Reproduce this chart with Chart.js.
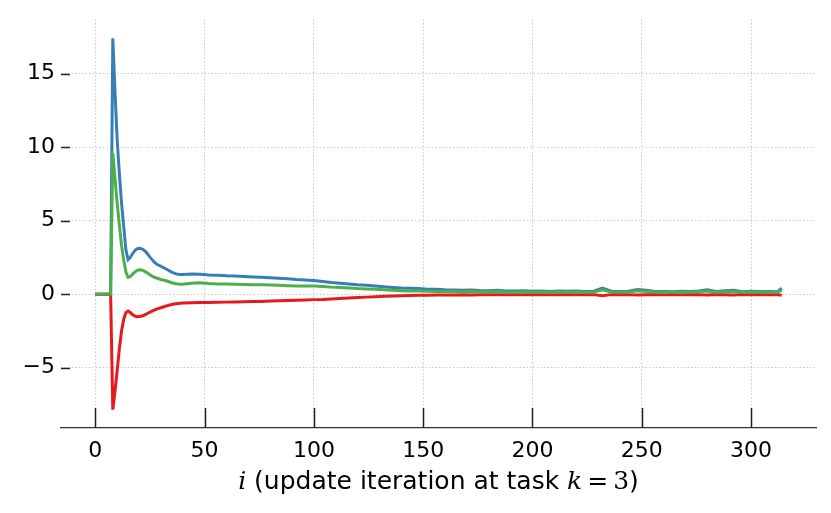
<!DOCTYPE html>
<html>
<head>
<meta charset="utf-8">
<script src="https://cdn.jsdelivr.net/npm/chart.js@4/dist/chart.umd.min.js"></script>
<style>
body{margin:0;background:#fff;}
canvas{display:block;}
</style>
</head>
<body>
<canvas id="chart" width="831" height="513"></canvas>
<script>
// DATA

const iters = [0,1,2,3,4,5,6,7,8,9,10,11,12,13,14,15,16,17,18,19,20,21,22,23,24,25,26,27,28,29,30,31,32,33,34,35,36,37,38,39,40,
44,48,52,56,60,64,68,72,76,80,84,88,92,96,100,104,108,112,116,120,124,128,132,136,140,144,148,152,156,160,
164,168,172,176,180,184,188,192,196,200,204,208,212,216,220,224,228,232,236,240,244,248,252,256,260,264,268,272,276,280,284,288,292,296,300,304,308,312,314];

const blueVals = [0,0,0,0,0,0,0,0,17.4,13.8,10.5,8.2,6.2,4.6,3.0,2.35,2.5,2.75,2.95,3.08,3.12,3.1,3.02,2.9,2.72,2.52,2.35,2.18,2.05,1.97,1.9,1.82,1.75,1.66,1.58,1.5,1.43,1.38,1.35,1.34,1.34,
1.37,1.35,1.3,1.28,1.25,1.24,1.2,1.17,1.15,1.12,1.08,1.05,1.0,0.97,0.93,0.87,0.8,0.75,0.7,0.64,0.6,0.55,0.5,0.46,0.42,0.4,0.38,0.34,0.33,0.3,
0.29,0.27,0.28,0.25,0.24,0.26,0.22,0.21,0.23,0.2,0.22,0.19,0.21,0.2,0.22,0.19,0.2,0.42,0.2,0.18,0.2,0.32,0.26,0.18,0.19,0.17,0.2,0.18,0.22,0.3,0.19,0.24,0.27,0.17,0.2,0.18,0.19,0.16,0.42];

const greenVals = [0,0,0,0,0,0,0,0,9.6,7.9,6.2,4.7,3.3,2.3,1.5,1.15,1.2,1.35,1.5,1.6,1.66,1.65,1.6,1.52,1.42,1.32,1.23,1.15,1.1,1.05,1.0,0.96,0.93,0.88,0.83,0.78,0.74,0.71,0.69,0.68,0.68,
0.75,0.77,0.72,0.7,0.7,0.68,0.66,0.65,0.65,0.62,0.6,0.58,0.56,0.55,0.55,0.53,0.48,0.45,0.42,0.38,0.36,0.33,0.3,0.27,0.24,0.22,0.21,0.2,0.19,0.18,
0.18,0.17,0.18,0.16,0.15,0.17,0.14,0.14,0.15,0.13,0.15,0.13,0.14,0.13,0.15,0.13,0.14,0.3,0.14,0.13,0.14,0.24,0.19,0.13,0.14,0.13,0.14,0.13,0.16,0.22,0.14,0.17,0.19,0.13,0.15,0.14,0.14,0.12,0.28];

const redVals = [0,0,0,0,0,0,0,0,-7.85,-6.6,-5.2,-3.7,-2.5,-1.7,-1.25,-1.15,-1.25,-1.38,-1.48,-1.53,-1.52,-1.5,-1.45,-1.38,-1.3,-1.22,-1.15,-1.08,-1.02,-0.97,-0.92,-0.87,-0.82,-0.78,-0.74,-0.7,-0.67,-0.65,-0.63,-0.61,-0.6,
-0.58,-0.57,-0.56,-0.55,-0.54,-0.53,-0.52,-0.5,-0.49,-0.47,-0.45,-0.43,-0.41,-0.39,-0.37,-0.36,-0.32,-0.29,-0.26,-0.22,-0.2,-0.17,-0.14,-0.12,-0.1,-0.09,-0.08,-0.07,-0.06,-0.05,
-0.05,-0.04,-0.05,-0.04,-0.03,-0.04,-0.03,-0.03,-0.04,-0.02,-0.03,-0.02,-0.03,-0.02,-0.03,-0.02,-0.03,-0.1,-0.03,-0.02,-0.03,-0.06,-0.04,-0.02,-0.03,-0.02,-0.03,-0.02,-0.03,-0.06,-0.02,-0.04,-0.05,-0.02,-0.03,-0.02,-0.03,-0.02,-0.08];

const xTicks = [0,50,100,150,200,250,300];
const yTicks = [-5,0,5,10,15];

// CHART

function pts(vals){
  return iters.map((x,i)=>({x:x,y:vals[i]}));
}

const tickFont = {family:"DejaVu Sans", size:22};

// inward tick marks + mixed italic axis label
const decor = {
  id:"decor",
  afterDraw(chart){
    const ctx = chart.ctx;
    const xs = chart.scales.x, ys = chart.scales.y;
    const a = chart.chartArea;
    ctx.save();
    ctx.strokeStyle = "#222";
    ctx.lineWidth = 1.5;
    xTicks.forEach(v=>{
      const px = Math.round(xs.getPixelForValue(v))+0.5;
      ctx.beginPath(); ctx.moveTo(px,a.bottom); ctx.lineTo(px,a.bottom-20); ctx.stroke();
    });
    yTicks.forEach(v=>{
      const py = Math.round(ys.getPixelForValue(v))+0.5;
      ctx.beginPath(); ctx.moveTo(a.left,py); ctx.lineTo(a.left+9,py); ctx.stroke();
    });

    const parts = [
      {t:"i", f:"italic 25px 'DejaVu Serif'"},
      {t:" (update iteration at task ", f:"25px 'DejaVu Sans'"},
      {t:"k", f:"italic 25px 'DejaVu Serif'"},
      {t:"\u2009=\u2009", f:"25px 'DejaVu Serif'"},
      {t:"3", f:"25px 'DejaVu Serif'"},
      {t:")", f:"25px 'DejaVu Sans'"}
    ];
    let w = 0;
    parts.forEach(p=>{ ctx.font = p.f; p.w = ctx.measureText(p.t).width; w += p.w; });
    let x = (a.left+a.right)/2 - w/2;
    const y = a.bottom + 54;
    ctx.fillStyle = "#000";
    ctx.textBaseline = "middle";
    ctx.textAlign = "left";
    parts.forEach(p=>{ ctx.font = p.f; ctx.fillText(p.t,x,y); x += p.w; });
    ctx.restore();
  }
};

new Chart(document.getElementById("chart"),{
  type:"line",
  data:{
    datasets:[
      {label:"blue", data:pts(blueVals), borderColor:"#377eb8", borderWidth:3, pointRadius:0, fill:false, order:3},
      {label:"green", data:pts(greenVals), borderColor:"#4daf4a", borderWidth:3, pointRadius:0, fill:false, order:1},
      {label:"red", data:pts(redVals), borderColor:"#e41a1c", borderWidth:3, pointRadius:0, fill:false, order:2}
    ]
  },
  options:{
    responsive:false,
    animation:false,
    layout:{padding:{top:15,right:15,left:0,bottom:0}},
    plugins:{legend:{display:false}, tooltip:{enabled:false}},
    scales:{
      x:{
        type:"linear",
        min:-15.7,
        max:329.7,
        afterFit(s){ s.height = 85; },
        afterBuildTicks(s){ s.ticks = xTicks.map(v=>({value:v})); },
        grid:{color:"#c8c8c8", lineWidth:1, drawTicks:false},
        border:{display:true, color:"#333", width:1.2, dash:[1.5,2]},
        ticks:{font:tickFont, color:"#000", padding:10, maxRotation:0}
      },
      y:{
        min:-9.1,
        max:18.7,
        afterFit(s){ s.width = 61; },
        afterBuildTicks(s){ s.ticks = yTicks.map(v=>({value:v})); },
        grid:{color:"#c8c8c8", lineWidth:1, drawTicks:false},
        border:{display:false, dash:[1.5,2]},
        ticks:{font:tickFont, color:"#000", padding:6,
          callback:v=>String(v).replace("-","\u2212")}
      }
    }
  },
  plugins:[decor]
});
</script>
</body>
</html>
